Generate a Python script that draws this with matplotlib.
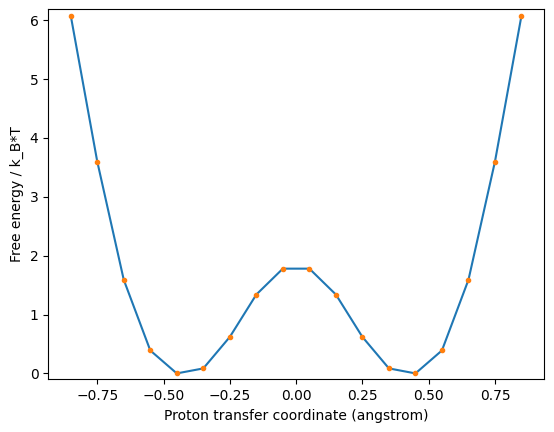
import matplotlib
matplotlib.use("Agg")
import matplotlib.pyplot as plt
import numpy as np

# coordenada de transferencia del proton y energia libre
coord = [-0.85, -0.75, -0.65, -0.55, -0.45, -0.35, -0.25, -0.15, -0.05,
         0.05, 0.15, 0.25, 0.35, 0.45, 0.55, 0.65, 0.75, 0.85]
energia = [6.08, 3.60, 1.59, 0.39, 0.0, 0.085, 0.62, 1.34, 1.78,
           1.78, 1.34, 0.62, 0.085, 0.0, 0.39, 1.59, 3.60, 6.08]

fig = plt.figure(figsize=(5.54, 4.32), dpi=100)
ax = fig.add_axes([0.087, 0.122, 0.895, 0.857])

ax.plot(coord, energia)
ax.plot(coord, energia, '.')
ax.set_ylim(-0.1, 6.19)
ax.set_xlabel("Proton transfer coordinate (angstrom)")
ax.set_ylabel("Free energy / k_B*T")

fig.savefig("out.png")
